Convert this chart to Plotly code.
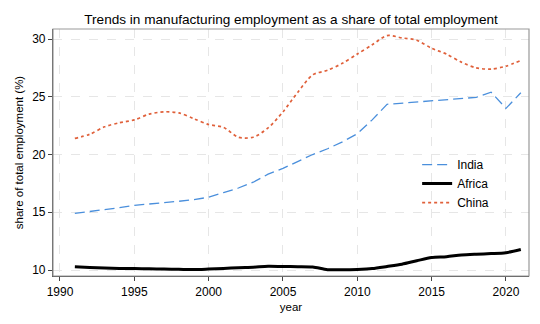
import plotly.graph_objects as go

years = list(range(1991, 2022))
india = [14.9, 15.05, 15.2, 15.4, 15.6, 15.7, 15.8, 15.95, 16.1, 16.3, 16.7, 17.1, 17.6, 18.3, 18.8,
         19.4, 20.0, 20.5, 21.1, 21.8, 23.0, 24.35, 24.45, 24.5, 24.6, 24.7, 24.8, 24.95, 25.4, 24.0, 25.35]
africa = [10.28, 10.22, 10.17, 10.14, 10.12, 10.11, 10.08, 10.06, 10.04, 10.08, 10.13, 10.2, 10.24, 10.32, 10.3,
          10.29, 10.26, 10.03, 10.02, 10.05, 10.12, 10.3, 10.5, 10.8, 11.08, 11.15, 11.3, 11.37, 11.42, 11.5, 11.78]
china = [21.4, 21.75, 22.4, 22.75, 23.0, 23.5, 23.7, 23.6, 23.1, 22.6, 22.35, 21.5, 21.5, 22.3, 23.7,
         25.4, 26.9, 27.3, 27.9, 28.7, 29.5, 30.3, 30.1, 29.9, 29.2, 28.7, 28.0, 27.5, 27.4, 27.65, 28.15]

xticks = [1990, 1995, 2000, 2005, 2010, 2015, 2020]
yticks = [10, 15, 20, 25, 30]

fig = go.Figure()
fig.add_trace(go.Scatter(x=years, y=india, name="India", mode="lines",
                         line=dict(color="#4a8fdc", width=1.3, dash="10px,5px")))
fig.add_trace(go.Scatter(x=years, y=africa, name="Africa", mode="lines",
                         line=dict(color="black", width=3, shape="spline", smoothing=0.8)))
fig.add_trace(go.Scatter(x=years, y=china, name="China", mode="lines",
                         line=dict(color="#e0603a", width=1.7, dash="dot", shape="spline", smoothing=0.8)))

axis_common = dict(showgrid=True, gridcolor="#e6e6e6", griddash="dash", gridwidth=1,
                   showline=True, linecolor="#444", linewidth=1.2, ticks="outside",
                   ticklen=4, tickcolor="#444", zeroline=False,
                   tickfont=dict(size=12, color="black"))

fig.update_layout(
    width=540, height=324,
    margin=dict(l=53, r=11, t=29, b=48),
    paper_bgcolor="white", plot_bgcolor="white",
    font=dict(family="Liberation Sans, Arial, sans-serif", color="black"),
    title=dict(text="Trends in manufacturing employment as a share of total employment",
               x=0.539, xanchor="center", y=0.942, yanchor="middle",
               font=dict(size=13.6, color="black")),
    xaxis=dict(range=[1989.53, 2021.55], tickvals=xticks,
               title=dict(text="year", font=dict(size=11.5, color="black"), standoff=5), **axis_common),
    yaxis=dict(range=[9.48, 30.87], tickvals=yticks,
               title=dict(text="share of total employment (%)", font=dict(size=11.5, color="black"), standoff=6),
               **axis_common),
    legend=dict(x=0.765, y=0.51, xanchor="left", yanchor="top", bgcolor="rgba(0,0,0,0)",
                font=dict(size=12, color="black"), itemwidth=30, tracegroupgap=0),
    showlegend=True,
)
fig.add_shape(type="rect", xref="paper", yref="paper", x0=0, y0=0, x1=1, y1=1,
              line=dict(color="#999", width=1.2), layer="above")

fig.write_html("out.html")
